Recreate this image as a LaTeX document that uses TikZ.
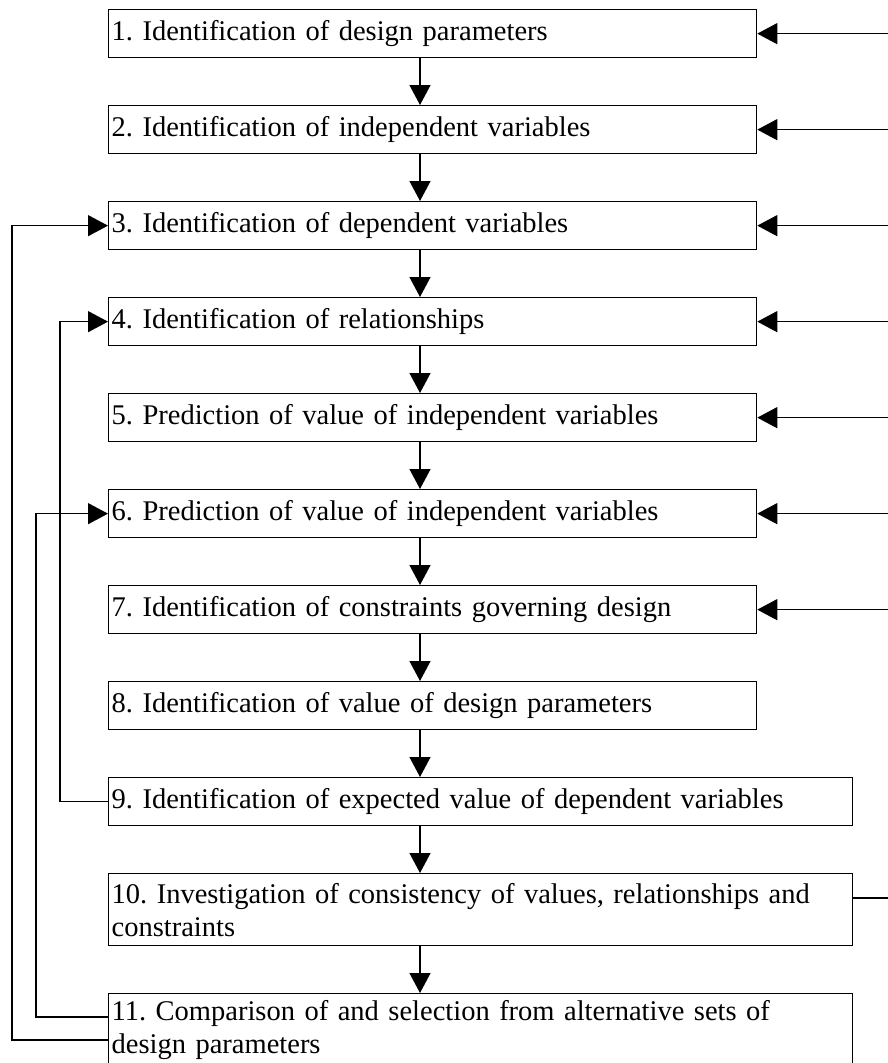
\documentclass[tikz,border=0pt]{standalone}
\usepackage{fontspec}
\setmainfont{Liberation Serif}
\usetikzlibrary{arrows.meta,calc}
\frenchspacing
\begin{document}
\begin{tikzpicture}[x=1pt,y=-1pt,
  line width=1.3pt,
  stepbox/.style={draw, rectangle, anchor=north west, inner xsep=3pt, inner ysep=0pt,
    align=left, font=\fontsize{28.5}{33}\selectfont, minimum height=48pt},
  narrow/.style={stepbox, text width=642pt},
  wide/.style={stepbox, text width=738pt},
  arr/.style={-{Triangle[length=20pt,width=21pt]}},
]
\useasboundingbox (0,0) rectangle (888,1063);

% process steps
\node[narrow] (b1) at (108,9)   {1. Identification of design parameters};
\node[narrow] (b2) at (108,105) {2. Identification of independent variables};
\node[narrow] (b3) at (108,201) {3. Identification of dependent variables};
\node[narrow] (b4) at (108,297) {4. Identification of relationships};
\node[narrow] (b5) at (108,393) {5. Prediction of value of independent variables};
\node[narrow] (b6) at (108,489) {6. Prediction of value of independent variables};
\node[narrow] (b7) at (108,585) {7. Identification of constraints governing design};
\node[narrow] (b8) at (108,681) {8. Identification of value of design parameters};
\node[wide]   (b9) at (108,777) {9. Identification of expected value of dependent variables};
\node[wide, minimum height=72pt] (b10) at (108,873)
  {10. Investigation of consistency of values, relationships and\\constraints};
\node[wide, minimum height=72pt] (b11) at (108,993)
  {11. Comparison of and selection from alternative sets of\\design parameters};

% main flow
\foreach \a/\b in {b1/b2,b2/b3,b3/b4,b4/b5,b5/b6,b6/b7,b7/b8,b8/b9,b9/b10,b10/b11}
  \draw[arr] ([xshift=312pt]\a.south west) -- ([xshift=312pt]\b.north west);

% inputs from the right
\foreach \n in {b1,b2,b3,b4,b5,b6,b7}
  \draw[arr] ([xshift=132pt]\n.east) -- (\n.east);
\draw ([yshift=-25pt]b10.north east) -- ++(36,0);

% feedback loops on the left
\draw[arr] (b9.west) -- ++(-48,0) |- (b4.west);
\draw[arr] ([yshift=-24pt]b11.north west) -- ++(-72,0) |- (b6.west);
\draw[arr] ([yshift=-47pt]b11.north west) -- ++(-96,0) |- (b3.west);
\end{tikzpicture}
\end{document}
